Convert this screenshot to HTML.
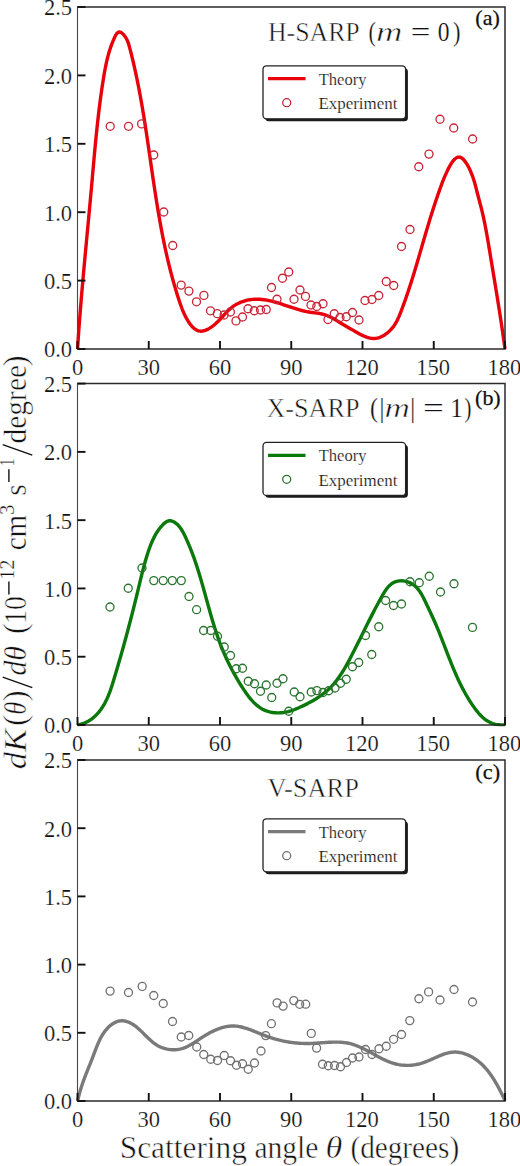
<!DOCTYPE html><html><head><meta charset="utf-8"><style>html,body{margin:0;padding:0;background:#fff;width:520px;height:1166px;overflow:hidden}svg{display:block}text{font-family:"Liberation Serif", serif}</style></head><body>
<svg width="520" height="1166" viewBox="0 0 520 1166">
<rect width="520" height="1166" fill="#fff"/>
<clipPath id="c0"><rect x="75.5" y="7.0" width="431.5" height="343.5"/></clipPath>
<path d="M77.54,349.00 L77.70,346.53 L77.86,344.06 L78.02,341.58 L78.19,339.11 L78.36,336.64 L78.53,334.17 L78.71,331.69 L78.89,329.22 L79.07,326.75 L79.25,324.28 L79.44,321.81 L79.63,319.34 L79.82,316.87 L80.01,314.40 L80.21,311.93 L80.40,309.46 L80.60,306.99 L80.80,304.52 L81.01,302.05 L81.21,299.58 L81.42,297.11 L81.63,294.64 L81.84,292.17 L82.05,289.70 L82.27,287.23 L82.48,284.77 L82.70,282.30 L82.92,279.83 L83.14,277.36 L83.36,274.89 L83.58,272.43 L83.81,269.96 L84.03,267.49 L84.26,265.02 L84.48,262.56 L84.71,260.09 L84.94,257.62 L85.17,255.15 L85.40,252.69 L85.63,250.22 L85.86,247.75 L86.09,245.29 L86.32,242.82 L86.55,240.35 L86.79,237.89 L87.02,235.42 L87.25,232.95 L87.48,230.48 L87.71,228.02 L87.95,225.55 L88.18,223.08 L88.41,220.62 L88.64,218.15 L88.87,215.68 L89.10,213.21 L89.33,210.75 L89.56,208.28 L89.79,205.81 L90.02,203.34 L90.25,200.87 L90.47,198.41 L90.70,195.94 L90.92,193.47 L91.15,191.00 L91.37,188.53 L91.59,186.06 L91.81,183.59 L92.03,181.13 L92.25,178.66 L92.47,176.19 L92.69,173.72 L92.90,171.25 L93.12,168.78 L93.34,166.31 L93.56,163.84 L93.78,161.37 L94.01,158.90 L94.23,156.44 L94.46,153.97 L94.68,151.50 L94.91,149.03 L95.15,146.57 L95.38,144.10 L95.62,141.63 L95.86,139.17 L96.11,136.70 L96.35,134.24 L96.61,131.77 L96.86,129.31 L97.12,126.85 L97.39,124.39 L97.65,121.92 L97.93,119.46 L98.21,117.00 L98.49,114.54 L98.78,112.09 L99.08,109.63 L99.38,107.17 L99.69,104.72 L100.01,102.26 L100.33,99.81 L100.66,97.35 L100.99,94.90 L101.34,92.45 L101.69,90.00 L102.05,87.55 L102.42,85.11 L102.79,82.66 L103.18,80.22 L103.57,77.77 L103.97,75.33 L104.39,72.89 L104.83,70.46 L105.29,68.02 L105.78,65.59 L106.29,63.16 L106.84,60.74 L107.42,58.31 L108.04,55.90 L108.71,53.49 L109.42,51.08 L110.19,48.68 L111.00,46.29 L111.88,43.90 L112.82,41.52 L113.82,39.14 L114.90,36.78 L116.06,34.58 L117.36,32.88 L118.84,31.98 L120.53,32.18 L122.33,33.34 L124.10,35.18 L125.69,37.40 L126.97,39.73 L127.97,42.11 L128.77,44.51 L129.46,46.93 L130.09,49.35 L130.72,51.77 L131.33,54.19 L131.93,56.62 L132.52,59.04 L133.10,61.47 L133.67,63.90 L134.23,66.33 L134.78,68.76 L135.31,71.19 L135.84,73.62 L136.36,76.05 L136.87,78.48 L137.37,80.91 L137.86,83.35 L138.34,85.78 L138.82,88.22 L139.28,90.65 L139.74,93.09 L140.19,95.53 L140.64,97.96 L141.08,100.40 L141.51,102.84 L141.93,105.28 L142.35,107.72 L142.76,110.16 L143.17,112.60 L143.57,115.04 L143.97,117.49 L144.36,119.93 L144.75,122.37 L145.14,124.82 L145.52,127.26 L145.89,129.70 L146.27,132.15 L146.64,134.59 L147.00,137.04 L147.37,139.48 L147.73,141.93 L148.09,144.38 L148.45,146.82 L148.81,149.27 L149.16,151.72 L149.52,154.16 L149.87,156.61 L150.23,159.06 L150.58,161.50 L150.93,163.95 L151.29,166.40 L151.64,168.85 L152.00,171.30 L152.36,173.74 L152.71,176.19 L153.07,178.64 L153.44,181.09 L153.80,183.53 L154.17,185.98 L154.54,188.43 L154.91,190.88 L155.28,193.32 L155.66,195.77 L156.05,198.22 L156.43,200.67 L156.83,203.11 L157.22,205.56 L157.62,208.01 L158.03,210.45 L158.44,212.90 L158.86,215.34 L159.28,217.79 L159.71,220.23 L160.15,222.68 L160.59,225.12 L161.04,227.57 L161.50,230.01 L161.96,232.45 L162.44,234.89 L162.92,237.33 L163.40,239.77 L163.90,242.21 L164.41,244.64 L164.92,247.08 L165.44,249.51 L165.97,251.94 L166.52,254.36 L167.07,256.78 L167.63,259.20 L168.20,261.62 L168.78,264.03 L169.37,266.43 L169.97,268.84 L170.58,271.24 L171.21,273.63 L171.84,276.02 L172.49,278.40 L173.14,280.78 L173.81,283.16 L174.49,285.53 L175.19,287.89 L175.89,290.24 L176.61,292.59 L177.34,294.94 L178.09,297.27 L178.85,299.60 L179.62,301.92 L180.41,304.24 L181.23,306.55 L182.09,308.85 L183.02,311.16 L184.03,313.47 L185.12,315.78 L186.33,318.10 L187.66,320.42 L189.13,322.72 L190.72,324.90 L192.44,326.89 L194.28,328.59 L196.25,329.93 L198.34,330.82 L200.54,331.18 L202.84,331.01 L205.18,330.39 L207.52,329.40 L209.82,328.12 L212.03,326.64 L214.10,325.03 L216.05,323.33 L217.90,321.55 L219.68,319.72 L221.40,317.87 L223.08,316.00 L224.76,314.16 L226.45,312.35 L228.18,310.60 L229.97,308.93 L231.84,307.36 L233.82,305.92 L235.91,304.61 L238.08,303.44 L240.34,302.41 L242.66,301.52 L245.03,300.77 L247.44,300.16 L249.86,299.70 L252.30,299.39 L254.72,299.21 L257.14,299.17 L259.56,299.26 L261.97,299.46 L264.39,299.76 L266.79,300.16 L269.20,300.64 L271.60,301.20 L274.00,301.83 L276.40,302.50 L278.80,303.23 L281.20,303.98 L283.59,304.77 L285.99,305.57 L288.39,306.37 L290.79,307.17 L293.20,307.95 L295.60,308.71 L298.01,309.44 L300.42,310.12 L302.84,310.75 L305.25,311.31 L307.68,311.80 L310.11,312.21 L312.54,312.54 L314.96,312.85 L317.38,313.17 L319.78,313.55 L322.17,314.04 L324.52,314.68 L326.84,315.50 L329.13,316.48 L331.39,317.60 L333.61,318.81 L335.81,320.09 L337.99,321.39 L340.14,322.70 L342.27,323.97 L344.38,325.22 L346.50,326.45 L348.61,327.68 L350.75,328.91 L352.91,330.15 L355.11,331.41 L357.35,332.70 L359.62,333.96 L361.93,335.16 L364.26,336.25 L366.61,337.18 L368.96,337.90 L371.32,338.36 L373.68,338.53 L376.02,338.36 L378.33,337.86 L380.60,337.07 L382.82,336.01 L384.96,334.71 L387.02,333.20 L388.97,331.51 L390.81,329.67 L392.51,327.71 L394.06,325.65 L395.45,323.52 L396.69,321.34 L397.80,319.13 L398.81,316.88 L399.75,314.62 L400.65,312.33 L401.53,310.04 L402.40,307.75 L403.26,305.44 L404.11,303.13 L404.94,300.82 L405.76,298.50 L406.57,296.17 L407.36,293.84 L408.15,291.50 L408.93,289.16 L409.70,286.82 L410.46,284.47 L411.21,282.12 L411.95,279.76 L412.69,277.40 L413.42,275.03 L414.15,272.67 L414.87,270.30 L415.58,267.92 L416.29,265.55 L417.00,263.17 L417.70,260.79 L418.40,258.41 L419.10,256.03 L419.79,253.64 L420.49,251.26 L421.18,248.87 L421.87,246.48 L422.57,244.09 L423.26,241.71 L423.96,239.32 L424.65,236.93 L425.35,234.54 L426.05,232.16 L426.76,229.77 L427.47,227.39 L428.19,225.00 L428.91,222.62 L429.63,220.24 L430.36,217.87 L431.10,215.49 L431.84,213.12 L432.60,210.75 L433.36,208.38 L434.13,206.02 L434.90,203.66 L435.68,201.32 L436.46,198.99 L437.25,196.68 L438.03,194.40 L438.82,192.14 L439.60,189.92 L440.39,187.70 L441.21,185.47 L442.06,183.20 L442.97,180.88 L443.95,178.47 L445.01,175.96 L446.17,173.33 L447.43,170.60 L448.78,167.88 L450.21,165.26 L451.70,162.84 L453.25,160.72 L454.85,158.99 L456.49,157.76 L458.14,157.12 L459.82,157.17 L461.49,157.90 L463.14,159.20 L464.75,161.00 L466.31,163.18 L467.79,165.64 L469.18,168.30 L470.46,171.05 L471.61,173.79 L472.62,176.44 L473.49,178.97 L474.26,181.40 L474.94,183.76 L475.56,186.08 L476.14,188.37 L476.72,190.66 L477.30,192.96 L477.91,195.30 L478.53,197.66 L479.17,200.04 L479.81,202.44 L480.44,204.85 L481.07,207.28 L481.67,209.70 L482.26,212.13 L482.83,214.56 L483.37,216.99 L483.90,219.42 L484.41,221.85 L484.90,224.28 L485.38,226.71 L485.85,229.15 L486.30,231.58 L486.74,234.02 L487.18,236.45 L487.60,238.89 L488.02,241.33 L488.43,243.77 L488.84,246.21 L489.24,248.64 L489.65,251.08 L490.05,253.52 L490.45,255.97 L490.85,258.41 L491.26,260.85 L491.66,263.29 L492.06,265.73 L492.47,268.18 L492.87,270.62 L493.28,273.07 L493.68,275.51 L494.09,277.96 L494.49,280.40 L494.90,282.85 L495.30,285.29 L495.70,287.74 L496.10,290.19 L496.50,292.63 L496.90,295.08 L497.29,297.53 L497.69,299.98 L498.08,302.43 L498.47,304.88 L498.86,307.33 L499.24,309.78 L499.63,312.23 L500.01,314.68 L500.39,317.13 L500.76,319.58 L501.13,322.03 L501.50,324.48 L501.87,326.93 L502.23,329.38 L502.59,331.83 L502.94,334.29 L503.29,336.74 L503.63,339.19 L503.97,341.64 L504.31,344.10 L504.64,346.55 L504.97,349.00" fill="none" stroke="#e8000b" stroke-width="3.4" stroke-linejoin="round" stroke-linecap="butt" clip-path="url(#c0)"/>
<circle cx="110.20" cy="126.30" r="4" fill="none" stroke="#c82436" stroke-width="1.3"/>
<circle cx="128.50" cy="126.30" r="4" fill="none" stroke="#c82436" stroke-width="1.3"/>
<circle cx="141.60" cy="123.90" r="4" fill="none" stroke="#c82436" stroke-width="1.3"/>
<circle cx="153.75" cy="155.00" r="4" fill="none" stroke="#c82436" stroke-width="1.3"/>
<circle cx="163.75" cy="212.00" r="4" fill="none" stroke="#c82436" stroke-width="1.3"/>
<circle cx="172.75" cy="245.50" r="4" fill="none" stroke="#c82436" stroke-width="1.3"/>
<circle cx="181.20" cy="285.10" r="4" fill="none" stroke="#c82436" stroke-width="1.3"/>
<circle cx="188.90" cy="291.10" r="4" fill="none" stroke="#c82436" stroke-width="1.3"/>
<circle cx="196.50" cy="301.80" r="4" fill="none" stroke="#c82436" stroke-width="1.3"/>
<circle cx="203.90" cy="295.40" r="4" fill="none" stroke="#c82436" stroke-width="1.3"/>
<circle cx="210.50" cy="310.80" r="4" fill="none" stroke="#c82436" stroke-width="1.3"/>
<circle cx="217.30" cy="313.70" r="4" fill="none" stroke="#c82436" stroke-width="1.3"/>
<circle cx="224.10" cy="315.00" r="4" fill="none" stroke="#c82436" stroke-width="1.3"/>
<circle cx="230.40" cy="312.00" r="4" fill="none" stroke="#c82436" stroke-width="1.3"/>
<circle cx="236.00" cy="320.90" r="4" fill="none" stroke="#c82436" stroke-width="1.3"/>
<circle cx="242.50" cy="317.00" r="4" fill="none" stroke="#c82436" stroke-width="1.3"/>
<circle cx="248.00" cy="308.75" r="4" fill="none" stroke="#c82436" stroke-width="1.3"/>
<circle cx="254.25" cy="310.75" r="4" fill="none" stroke="#c82436" stroke-width="1.3"/>
<circle cx="260.50" cy="310.00" r="4" fill="none" stroke="#c82436" stroke-width="1.3"/>
<circle cx="266.25" cy="309.50" r="4" fill="none" stroke="#c82436" stroke-width="1.3"/>
<circle cx="271.50" cy="287.50" r="4" fill="none" stroke="#c82436" stroke-width="1.3"/>
<circle cx="277.00" cy="299.25" r="4" fill="none" stroke="#c82436" stroke-width="1.3"/>
<circle cx="282.50" cy="278.25" r="4" fill="none" stroke="#c82436" stroke-width="1.3"/>
<circle cx="288.75" cy="272.00" r="4" fill="none" stroke="#c82436" stroke-width="1.3"/>
<circle cx="294.00" cy="299.25" r="4" fill="none" stroke="#c82436" stroke-width="1.3"/>
<circle cx="300.00" cy="290.00" r="4" fill="none" stroke="#c82436" stroke-width="1.3"/>
<circle cx="305.50" cy="296.40" r="4" fill="none" stroke="#c82436" stroke-width="1.3"/>
<circle cx="311.00" cy="305.00" r="4" fill="none" stroke="#c82436" stroke-width="1.3"/>
<circle cx="316.75" cy="306.50" r="4" fill="none" stroke="#c82436" stroke-width="1.3"/>
<circle cx="323.00" cy="303.75" r="4" fill="none" stroke="#c82436" stroke-width="1.3"/>
<circle cx="328.00" cy="319.50" r="4" fill="none" stroke="#c82436" stroke-width="1.3"/>
<circle cx="334.25" cy="313.75" r="4" fill="none" stroke="#c82436" stroke-width="1.3"/>
<circle cx="340.00" cy="317.50" r="4" fill="none" stroke="#c82436" stroke-width="1.3"/>
<circle cx="346.25" cy="316.75" r="4" fill="none" stroke="#c82436" stroke-width="1.3"/>
<circle cx="352.50" cy="312.50" r="4" fill="none" stroke="#c82436" stroke-width="1.3"/>
<circle cx="359.00" cy="320.00" r="4" fill="none" stroke="#c82436" stroke-width="1.3"/>
<circle cx="365.00" cy="300.50" r="4" fill="none" stroke="#c82436" stroke-width="1.3"/>
<circle cx="372.00" cy="299.50" r="4" fill="none" stroke="#c82436" stroke-width="1.3"/>
<circle cx="378.75" cy="295.50" r="4" fill="none" stroke="#c82436" stroke-width="1.3"/>
<circle cx="386.25" cy="281.50" r="4" fill="none" stroke="#c82436" stroke-width="1.3"/>
<circle cx="393.75" cy="285.50" r="4" fill="none" stroke="#c82436" stroke-width="1.3"/>
<circle cx="401.50" cy="246.50" r="4" fill="none" stroke="#c82436" stroke-width="1.3"/>
<circle cx="410.00" cy="229.50" r="4" fill="none" stroke="#c82436" stroke-width="1.3"/>
<circle cx="418.75" cy="166.75" r="4" fill="none" stroke="#c82436" stroke-width="1.3"/>
<circle cx="429.00" cy="154.10" r="4" fill="none" stroke="#c82436" stroke-width="1.3"/>
<circle cx="440.00" cy="119.25" r="4" fill="none" stroke="#c82436" stroke-width="1.3"/>
<circle cx="453.75" cy="128.00" r="4" fill="none" stroke="#c82436" stroke-width="1.3"/>
<circle cx="472.60" cy="139.00" r="4" fill="none" stroke="#c82436" stroke-width="1.3"/>
<path d="M77.50,7.00 H505.00 V349.00 H77.50" fill="none" stroke="#2b2b2b" stroke-width="1.5"/>
<line x1="77.50" y1="6.25" x2="77.50" y2="349.75" stroke="#484848" stroke-width="1.1"/>
<line x1="77.50" y1="349.00" x2="77.50" y2="341.00" stroke="#111" stroke-width="1.9"/>
<text x="71.88" y="374.80" font-size="22.5" fill="#111111" stroke="#fff" stroke-width="0.2">0</text>
<line x1="148.75" y1="349.00" x2="148.75" y2="341.00" stroke="#111" stroke-width="1.9"/>
<text x="137.38" y="374.80" font-size="22.5" fill="#111111" stroke="#fff" stroke-width="0.2">30</text>
<line x1="220.00" y1="349.00" x2="220.00" y2="341.00" stroke="#111" stroke-width="1.9"/>
<text x="208.69" y="374.80" font-size="22.5" fill="#111111" stroke="#fff" stroke-width="0.2">60</text>
<line x1="291.25" y1="349.00" x2="291.25" y2="341.00" stroke="#111" stroke-width="1.9"/>
<text x="280.06" y="374.80" font-size="22.5" fill="#111111" stroke="#fff" stroke-width="0.2">90</text>
<line x1="362.50" y1="349.00" x2="362.50" y2="341.00" stroke="#111" stroke-width="1.9"/>
<text x="345.06" y="374.80" font-size="22.5" fill="#111111" stroke="#fff" stroke-width="0.2">120</text>
<line x1="433.75" y1="349.00" x2="433.75" y2="341.00" stroke="#111" stroke-width="1.9"/>
<text x="416.31" y="374.80" font-size="22.5" fill="#111111" stroke="#fff" stroke-width="0.2">150</text>
<line x1="505.00" y1="349.00" x2="505.00" y2="341.00" stroke="#111" stroke-width="1.9"/>
<text x="487.56" y="374.80" font-size="22.5" fill="#111111" stroke="#fff" stroke-width="0.2">180</text>
<line x1="77.50" y1="349.00" x2="85.50" y2="349.00" stroke="#111" stroke-width="1.9"/>
<text x="43.95" y="357.40" font-size="22.5" fill="#111111" stroke="#fff" stroke-width="0.2">0.0</text>
<line x1="77.50" y1="280.60" x2="85.50" y2="280.60" stroke="#111" stroke-width="1.9"/>
<text x="43.95" y="289.00" font-size="22.5" fill="#111111" stroke="#fff" stroke-width="0.2">0.5</text>
<line x1="77.50" y1="212.20" x2="85.50" y2="212.20" stroke="#111" stroke-width="1.9"/>
<text x="43.95" y="220.60" font-size="22.5" fill="#111111" stroke="#fff" stroke-width="0.2">1.0</text>
<line x1="77.50" y1="143.80" x2="85.50" y2="143.80" stroke="#111" stroke-width="1.9"/>
<text x="43.95" y="152.20" font-size="22.5" fill="#111111" stroke="#fff" stroke-width="0.2">1.5</text>
<line x1="77.50" y1="75.40" x2="85.50" y2="75.40" stroke="#111" stroke-width="1.9"/>
<text x="43.95" y="83.80" font-size="22.5" fill="#111111" stroke="#fff" stroke-width="0.2">2.0</text>
<line x1="77.50" y1="7.00" x2="85.50" y2="7.00" stroke="#111" stroke-width="1.9"/>
<text x="43.95" y="15.40" font-size="22.5" fill="#111111" stroke="#fff" stroke-width="0.2">2.5</text>
<text x="267.97" y="41.30" font-size="26.50" textLength="91.75" lengthAdjust="spacingAndGlyphs" fill="#111111" stroke="#fff" stroke-width="0.50">H-SARP</text>
<text x="368.57" y="41.30" font-size="26.50" textLength="7.32" lengthAdjust="spacingAndGlyphs" fill="#111111" stroke="#fff" stroke-width="0.20">(</text>
<text x="376.12" y="41.30" font-size="26.50" font-style="italic" textLength="26.45" lengthAdjust="spacingAndGlyphs" fill="#111111" stroke="#fff" stroke-width="0.50">m</text>
<text x="410.86" y="41.30" font-size="26.50" textLength="19.63" lengthAdjust="spacingAndGlyphs" fill="#111111" stroke="#fff" stroke-width="0.20">=</text>
<text x="437.86" y="41.30" font-size="26.50" textLength="11.78" lengthAdjust="spacingAndGlyphs" fill="#111111" stroke="#fff" stroke-width="0.20">0</text>
<text x="453.00" y="41.30" font-size="26.50" textLength="7.52" lengthAdjust="spacingAndGlyphs" fill="#111111" stroke="#fff" stroke-width="0.20">)</text>
<text x="475.38" y="25.43" font-size="21.00" textLength="24.47" lengthAdjust="spacingAndGlyphs" fill="#111" stroke="#111" stroke-width="0.25">(a)</text>
<rect x="265.3" y="68.20" width="142.6" height="53" rx="3.5" fill="#1a1a1a"/>
<rect x="263" y="65.80" width="142.6" height="53" rx="3.5" fill="#fff" stroke="#222" stroke-width="1.3"/>
<line x1="268" y1="78.70" x2="305.5" y2="78.70" stroke="#e8000b" stroke-width="3.2"/>
<circle cx="286.7" cy="102.70" r="4" fill="none" stroke="#c82436" stroke-width="1.3"/>
<text x="318.66" y="84.80" font-size="17.50" textLength="47.87" lengthAdjust="spacingAndGlyphs" fill="#111111" stroke="#fff" stroke-width="0.20">Theory</text>
<text x="318.42" y="109.00" font-size="17.50" textLength="79.02" lengthAdjust="spacingAndGlyphs" fill="#111111" stroke="#fff" stroke-width="0.20">Experiment</text>
<clipPath id="c1"><rect x="75.5" y="383.6" width="431.5" height="342.9"/></clipPath>
<path d="M77.41,724.79 L79.14,724.54 L80.83,724.19 L82.47,723.74 L84.07,723.19 L85.63,722.55 L87.14,721.82 L88.61,721.01 L90.04,720.13 L91.42,719.17 L92.76,718.14 L94.05,717.05 L95.30,715.91 L96.50,714.71 L97.66,713.46 L98.77,712.17 L99.83,710.85 L100.85,709.48 L101.82,708.10 L102.75,706.68 L103.63,705.25 L104.46,703.80 L105.26,702.32 L106.02,700.83 L106.75,699.32 L107.44,697.79 L108.11,696.25 L108.74,694.70 L109.35,693.13 L109.94,691.56 L110.50,689.97 L111.05,688.37 L111.59,686.77 L112.11,685.16 L112.61,683.55 L113.11,681.93 L113.61,680.31 L114.10,678.69 L114.59,677.07 L115.07,675.45 L115.56,673.83 L116.04,672.21 L116.52,670.58 L117.00,668.96 L117.48,667.34 L117.95,665.71 L118.43,664.09 L118.90,662.47 L119.37,660.84 L119.84,659.22 L120.30,657.59 L120.77,655.97 L121.23,654.34 L121.69,652.72 L122.15,651.09 L122.60,649.47 L123.06,647.84 L123.51,646.21 L123.96,644.58 L124.41,642.96 L124.86,641.33 L125.30,639.70 L125.75,638.07 L126.19,636.44 L126.63,634.81 L127.07,633.18 L127.51,631.56 L127.94,629.93 L128.37,628.29 L128.80,626.66 L129.23,625.03 L129.66,623.40 L130.09,621.77 L130.51,620.14 L130.94,618.51 L131.36,616.87 L131.78,615.24 L132.19,613.61 L132.61,611.98 L133.02,610.34 L133.44,608.71 L133.85,607.07 L134.26,605.44 L134.66,603.81 L135.07,602.17 L135.47,600.53 L135.88,598.90 L136.28,597.26 L136.68,595.63 L137.08,593.99 L137.47,592.35 L137.87,590.72 L138.26,589.08 L138.65,587.44 L139.04,585.81 L139.43,584.17 L139.82,582.53 L140.22,580.89 L140.61,579.26 L141.01,577.62 L141.41,575.98 L141.82,574.35 L142.23,572.71 L142.65,571.08 L143.07,569.45 L143.50,567.82 L143.93,566.19 L144.38,564.56 L144.83,562.93 L145.29,561.31 L145.76,559.68 L146.25,558.06 L146.74,556.44 L147.25,554.82 L147.77,553.20 L148.30,551.59 L148.85,549.98 L149.41,548.37 L149.99,546.77 L150.60,545.18 L151.23,543.59 L151.88,542.02 L152.56,540.46 L153.28,538.92 L154.03,537.39 L154.82,535.89 L155.64,534.40 L156.51,532.94 L157.43,531.51 L158.39,530.10 L159.40,528.73 L160.47,527.38 L161.59,526.07 L162.77,524.79 L164.01,523.58 L165.31,522.49 L166.67,521.60 L168.08,520.97 L169.54,520.69 L171.06,520.80 L172.60,521.27 L174.11,522.02 L175.57,522.98 L176.94,524.09 L178.19,525.29 L179.33,526.57 L180.37,527.92 L181.33,529.32 L182.22,530.76 L183.05,532.25 L183.83,533.76 L184.59,535.29 L185.32,536.82 L186.05,538.36 L186.75,539.91 L187.45,541.46 L188.13,543.01 L188.80,544.57 L189.45,546.14 L190.10,547.71 L190.73,549.28 L191.35,550.85 L191.96,552.44 L192.56,554.02 L193.14,555.61 L193.72,557.20 L194.29,558.79 L194.85,560.39 L195.40,561.99 L195.94,563.59 L196.48,565.20 L197.00,566.81 L197.52,568.42 L198.03,570.03 L198.54,571.65 L199.04,573.27 L199.53,574.89 L200.02,576.51 L200.50,578.13 L200.98,579.76 L201.45,581.38 L201.92,583.01 L202.38,584.64 L202.85,586.27 L203.31,587.90 L203.76,589.53 L204.22,591.16 L204.67,592.79 L205.12,594.42 L205.57,596.05 L206.02,597.68 L206.47,599.31 L206.92,600.94 L207.37,602.57 L207.82,604.20 L208.27,605.83 L208.72,607.46 L209.18,609.08 L209.64,610.71 L210.10,612.33 L210.56,613.95 L211.03,615.57 L211.50,617.19 L211.97,618.81 L212.45,620.42 L212.93,622.03 L213.42,623.64 L213.92,625.25 L214.42,626.86 L214.92,628.46 L215.44,630.06 L215.96,631.65 L216.49,633.25 L217.02,634.83 L217.57,636.42 L218.12,638.00 L218.68,639.58 L219.25,641.15 L219.83,642.72 L220.42,644.29 L221.02,645.85 L221.64,647.41 L222.26,648.96 L222.89,650.51 L223.54,652.05 L224.20,653.59 L224.87,655.12 L225.55,656.65 L226.24,658.18 L226.95,659.70 L227.67,661.21 L228.40,662.72 L229.14,664.23 L229.89,665.74 L230.66,667.24 L231.44,668.74 L232.23,670.23 L233.03,671.72 L233.84,673.21 L234.67,674.69 L235.51,676.17 L236.36,677.65 L237.22,679.13 L238.10,680.60 L238.99,682.07 L239.89,683.54 L240.80,685.01 L241.73,686.47 L242.66,687.93 L243.61,689.39 L244.58,690.84 L245.56,692.28 L246.56,693.71 L247.58,695.11 L248.62,696.50 L249.69,697.85 L250.78,699.17 L251.89,700.45 L253.04,701.70 L254.21,702.89 L255.42,704.04 L256.66,705.14 L257.94,706.17 L259.25,707.15 L260.60,708.05 L262.00,708.89 L263.43,709.65 L264.91,710.34 L266.44,710.94 L268.01,711.45 L269.62,711.88 L271.25,712.24 L272.92,712.51 L274.60,712.70 L276.30,712.82 L278.01,712.86 L279.73,712.82 L281.44,712.72 L283.15,712.54 L284.85,712.29 L286.53,711.97 L288.18,711.58 L289.82,711.14 L291.43,710.63 L293.03,710.08 L294.62,709.49 L296.19,708.86 L297.75,708.20 L299.31,707.52 L300.86,706.82 L302.40,706.11 L303.94,705.38 L305.46,704.64 L306.98,703.88 L308.49,703.11 L309.99,702.32 L311.48,701.50 L312.95,700.67 L314.41,699.82 L315.85,698.94 L317.27,698.04 L318.68,697.12 L320.07,696.18 L321.44,695.21 L322.78,694.21 L324.11,693.19 L325.41,692.13 L326.68,691.05 L327.93,689.94 L329.16,688.80 L330.35,687.63 L331.52,686.43 L332.66,685.19 L333.77,683.93 L334.85,682.64 L335.91,681.32 L336.95,679.98 L337.96,678.62 L338.95,677.24 L339.93,675.83 L340.88,674.41 L341.81,672.98 L342.72,671.52 L343.62,670.06 L344.50,668.58 L345.36,667.10 L346.21,665.60 L347.05,664.10 L347.88,662.60 L348.69,661.09 L349.49,659.58 L350.29,658.07 L351.08,656.56 L351.86,655.05 L352.63,653.55 L353.40,652.05 L354.16,650.55 L354.92,649.06 L355.68,647.57 L356.42,646.08 L357.17,644.59 L357.91,643.11 L358.65,641.62 L359.39,640.14 L360.13,638.66 L360.86,637.18 L361.60,635.70 L362.33,634.22 L363.06,632.74 L363.80,631.26 L364.53,629.78 L365.27,628.30 L366.00,626.82 L366.74,625.33 L367.49,623.85 L368.23,622.36 L368.98,620.87 L369.74,619.37 L370.49,617.88 L371.26,616.38 L372.02,614.87 L372.80,613.37 L373.58,611.85 L374.36,610.34 L375.16,608.82 L375.96,607.29 L376.77,605.76 L377.59,604.22 L378.41,602.68 L379.25,601.13 L380.10,599.58 L380.95,598.02 L381.82,596.45 L382.71,594.89 L383.61,593.35 L384.55,591.84 L385.51,590.37 L386.52,588.97 L387.57,587.63 L388.67,586.38 L389.83,585.23 L391.05,584.18 L392.33,583.26 L393.69,582.48 L395.13,581.85 L396.64,581.37 L398.21,581.04 L399.82,580.86 L401.46,580.82 L403.12,580.91 L404.78,581.15 L406.43,581.51 L408.04,582.00 L409.61,582.62 L411.13,583.35 L412.57,584.20 L413.93,585.16 L415.20,586.22 L416.40,587.37 L417.53,588.61 L418.60,589.93 L419.61,591.31 L420.56,592.75 L421.47,594.23 L422.34,595.76 L423.17,597.31 L423.98,598.89 L424.76,600.48 L425.52,602.07 L426.27,603.66 L427.01,605.24 L427.75,606.79 L428.48,608.34 L429.21,609.87 L429.93,611.40 L430.65,612.91 L431.35,614.43 L432.06,615.94 L432.75,617.44 L433.44,618.95 L434.12,620.46 L434.79,621.98 L435.45,623.50 L436.11,625.03 L436.76,626.56 L437.40,628.10 L438.04,629.64 L438.67,631.18 L439.30,632.73 L439.92,634.29 L440.54,635.85 L441.15,637.41 L441.77,638.97 L442.37,640.54 L442.98,642.10 L443.59,643.67 L444.19,645.25 L444.80,646.82 L445.41,648.39 L446.01,649.97 L446.62,651.54 L447.23,653.12 L447.84,654.70 L448.45,656.27 L449.06,657.85 L449.68,659.42 L450.31,660.99 L450.93,662.57 L451.57,664.14 L452.20,665.70 L452.85,667.27 L453.50,668.83 L454.16,670.39 L454.82,671.95 L455.49,673.50 L456.17,675.05 L456.86,676.60 L457.56,678.14 L458.27,679.68 L458.99,681.21 L459.72,682.74 L460.46,684.26 L461.22,685.78 L461.98,687.29 L462.76,688.79 L463.55,690.29 L464.36,691.78 L465.18,693.26 L466.01,694.73 L466.86,696.20 L467.73,697.66 L468.61,699.11 L469.51,700.55 L470.43,701.99 L471.36,703.41 L472.31,704.83 L473.28,706.23 L474.27,707.63 L475.28,709.01 L476.32,710.37 L477.38,711.70 L478.47,713.00 L479.59,714.27 L480.74,715.49 L481.93,716.66 L483.15,717.78 L484.42,718.84 L485.73,719.83 L487.08,720.74 L488.48,721.58 L489.93,722.34 L491.43,723.00 L492.99,723.57 L494.61,724.04 L496.28,724.40 L498.01,724.64 L499.80,724.78 L501.61,724.85 L503.39,724.86 L505.13,724.87" fill="none" stroke="#0a780a" stroke-width="3.4" stroke-linejoin="round" stroke-linecap="butt" clip-path="url(#c1)"/>
<circle cx="110.00" cy="607.00" r="4" fill="none" stroke="#2a742e" stroke-width="1.3"/>
<circle cx="128.25" cy="588.25" r="4" fill="none" stroke="#2a742e" stroke-width="1.3"/>
<circle cx="142.00" cy="568.00" r="4" fill="none" stroke="#2a742e" stroke-width="1.3"/>
<circle cx="153.80" cy="580.60" r="4" fill="none" stroke="#2a742e" stroke-width="1.3"/>
<circle cx="163.20" cy="580.60" r="4" fill="none" stroke="#2a742e" stroke-width="1.3"/>
<circle cx="172.30" cy="580.60" r="4" fill="none" stroke="#2a742e" stroke-width="1.3"/>
<circle cx="181.30" cy="580.60" r="4" fill="none" stroke="#2a742e" stroke-width="1.3"/>
<circle cx="189.00" cy="596.50" r="4" fill="none" stroke="#2a742e" stroke-width="1.3"/>
<circle cx="196.60" cy="609.70" r="4" fill="none" stroke="#2a742e" stroke-width="1.3"/>
<circle cx="203.60" cy="630.50" r="4" fill="none" stroke="#2a742e" stroke-width="1.3"/>
<circle cx="210.75" cy="630.50" r="4" fill="none" stroke="#2a742e" stroke-width="1.3"/>
<circle cx="217.50" cy="636.25" r="4" fill="none" stroke="#2a742e" stroke-width="1.3"/>
<circle cx="224.25" cy="647.00" r="4" fill="none" stroke="#2a742e" stroke-width="1.3"/>
<circle cx="230.50" cy="655.50" r="4" fill="none" stroke="#2a742e" stroke-width="1.3"/>
<circle cx="236.25" cy="668.75" r="4" fill="none" stroke="#2a742e" stroke-width="1.3"/>
<circle cx="242.50" cy="668.25" r="4" fill="none" stroke="#2a742e" stroke-width="1.3"/>
<circle cx="248.25" cy="681.25" r="4" fill="none" stroke="#2a742e" stroke-width="1.3"/>
<circle cx="254.50" cy="683.75" r="4" fill="none" stroke="#2a742e" stroke-width="1.3"/>
<circle cx="260.50" cy="691.25" r="4" fill="none" stroke="#2a742e" stroke-width="1.3"/>
<circle cx="266.25" cy="685.00" r="4" fill="none" stroke="#2a742e" stroke-width="1.3"/>
<circle cx="271.75" cy="697.50" r="4" fill="none" stroke="#2a742e" stroke-width="1.3"/>
<circle cx="277.00" cy="683.25" r="4" fill="none" stroke="#2a742e" stroke-width="1.3"/>
<circle cx="283.00" cy="678.75" r="4" fill="none" stroke="#2a742e" stroke-width="1.3"/>
<circle cx="288.75" cy="711.25" r="4" fill="none" stroke="#2a742e" stroke-width="1.3"/>
<circle cx="294.25" cy="692.00" r="4" fill="none" stroke="#2a742e" stroke-width="1.3"/>
<circle cx="300.00" cy="696.75" r="4" fill="none" stroke="#2a742e" stroke-width="1.3"/>
<circle cx="311.25" cy="692.00" r="4" fill="none" stroke="#2a742e" stroke-width="1.3"/>
<circle cx="316.90" cy="690.60" r="4" fill="none" stroke="#2a742e" stroke-width="1.3"/>
<circle cx="323.00" cy="692.50" r="4" fill="none" stroke="#2a742e" stroke-width="1.3"/>
<circle cx="328.75" cy="690.75" r="4" fill="none" stroke="#2a742e" stroke-width="1.3"/>
<circle cx="335.00" cy="688.00" r="4" fill="none" stroke="#2a742e" stroke-width="1.3"/>
<circle cx="340.50" cy="683.25" r="4" fill="none" stroke="#2a742e" stroke-width="1.3"/>
<circle cx="346.25" cy="679.25" r="4" fill="none" stroke="#2a742e" stroke-width="1.3"/>
<circle cx="352.50" cy="666.75" r="4" fill="none" stroke="#2a742e" stroke-width="1.3"/>
<circle cx="358.75" cy="662.50" r="4" fill="none" stroke="#2a742e" stroke-width="1.3"/>
<circle cx="365.50" cy="635.50" r="4" fill="none" stroke="#2a742e" stroke-width="1.3"/>
<circle cx="371.75" cy="654.50" r="4" fill="none" stroke="#2a742e" stroke-width="1.3"/>
<circle cx="378.75" cy="626.75" r="4" fill="none" stroke="#2a742e" stroke-width="1.3"/>
<circle cx="385.60" cy="600.50" r="4" fill="none" stroke="#2a742e" stroke-width="1.3"/>
<circle cx="393.50" cy="605.50" r="4" fill="none" stroke="#2a742e" stroke-width="1.3"/>
<circle cx="401.50" cy="604.00" r="4" fill="none" stroke="#2a742e" stroke-width="1.3"/>
<circle cx="410.00" cy="581.75" r="4" fill="none" stroke="#2a742e" stroke-width="1.3"/>
<circle cx="419.25" cy="582.75" r="4" fill="none" stroke="#2a742e" stroke-width="1.3"/>
<circle cx="429.25" cy="576.25" r="4" fill="none" stroke="#2a742e" stroke-width="1.3"/>
<circle cx="440.50" cy="592.00" r="4" fill="none" stroke="#2a742e" stroke-width="1.3"/>
<circle cx="454.00" cy="583.75" r="4" fill="none" stroke="#2a742e" stroke-width="1.3"/>
<circle cx="472.50" cy="627.40" r="4" fill="none" stroke="#2a742e" stroke-width="1.3"/>
<path d="M77.50,383.60 H505.00 V725.00 H77.50" fill="none" stroke="#2b2b2b" stroke-width="1.5"/>
<line x1="77.50" y1="382.85" x2="77.50" y2="725.75" stroke="#484848" stroke-width="1.1"/>
<line x1="77.50" y1="725.00" x2="77.50" y2="717.00" stroke="#111" stroke-width="1.9"/>
<text x="71.88" y="750.80" font-size="22.5" fill="#111111" stroke="#fff" stroke-width="0.2">0</text>
<line x1="148.75" y1="725.00" x2="148.75" y2="717.00" stroke="#111" stroke-width="1.9"/>
<text x="137.38" y="750.80" font-size="22.5" fill="#111111" stroke="#fff" stroke-width="0.2">30</text>
<line x1="220.00" y1="725.00" x2="220.00" y2="717.00" stroke="#111" stroke-width="1.9"/>
<text x="208.69" y="750.80" font-size="22.5" fill="#111111" stroke="#fff" stroke-width="0.2">60</text>
<line x1="291.25" y1="725.00" x2="291.25" y2="717.00" stroke="#111" stroke-width="1.9"/>
<text x="280.06" y="750.80" font-size="22.5" fill="#111111" stroke="#fff" stroke-width="0.2">90</text>
<line x1="362.50" y1="725.00" x2="362.50" y2="717.00" stroke="#111" stroke-width="1.9"/>
<text x="345.06" y="750.80" font-size="22.5" fill="#111111" stroke="#fff" stroke-width="0.2">120</text>
<line x1="433.75" y1="725.00" x2="433.75" y2="717.00" stroke="#111" stroke-width="1.9"/>
<text x="416.31" y="750.80" font-size="22.5" fill="#111111" stroke="#fff" stroke-width="0.2">150</text>
<line x1="505.00" y1="725.00" x2="505.00" y2="717.00" stroke="#111" stroke-width="1.9"/>
<text x="487.56" y="750.80" font-size="22.5" fill="#111111" stroke="#fff" stroke-width="0.2">180</text>
<line x1="77.50" y1="725.00" x2="85.50" y2="725.00" stroke="#111" stroke-width="1.9"/>
<text x="43.95" y="733.40" font-size="22.5" fill="#111111" stroke="#fff" stroke-width="0.2">0.0</text>
<line x1="77.50" y1="656.72" x2="85.50" y2="656.72" stroke="#111" stroke-width="1.9"/>
<text x="43.95" y="665.12" font-size="22.5" fill="#111111" stroke="#fff" stroke-width="0.2">0.5</text>
<line x1="77.50" y1="588.44" x2="85.50" y2="588.44" stroke="#111" stroke-width="1.9"/>
<text x="43.95" y="596.84" font-size="22.5" fill="#111111" stroke="#fff" stroke-width="0.2">1.0</text>
<line x1="77.50" y1="520.16" x2="85.50" y2="520.16" stroke="#111" stroke-width="1.9"/>
<text x="43.95" y="528.56" font-size="22.5" fill="#111111" stroke="#fff" stroke-width="0.2">1.5</text>
<line x1="77.50" y1="451.88" x2="85.50" y2="451.88" stroke="#111" stroke-width="1.9"/>
<text x="43.95" y="460.28" font-size="22.5" fill="#111111" stroke="#fff" stroke-width="0.2">2.0</text>
<line x1="77.50" y1="383.60" x2="85.50" y2="383.60" stroke="#111" stroke-width="1.9"/>
<text x="43.95" y="392.00" font-size="22.5" fill="#111111" stroke="#fff" stroke-width="0.2">2.5</text>
<text x="266.48" y="416.80" font-size="26.50" textLength="93.00" lengthAdjust="spacingAndGlyphs" fill="#111111" stroke="#fff" stroke-width="0.50">X-SARP</text>
<text x="370.09" y="416.80" font-size="26.50" textLength="7.96" lengthAdjust="spacingAndGlyphs" fill="#111111" stroke="#fff" stroke-width="0.20">(</text>
<text x="379.16" y="416.80" font-size="26.50" textLength="5.40" lengthAdjust="spacingAndGlyphs" fill="#111111" stroke="#fff" stroke-width="0.20">|</text>
<text x="384.57" y="416.80" font-size="26.50" font-style="italic" textLength="25.44" lengthAdjust="spacingAndGlyphs" fill="#111111" stroke="#fff" stroke-width="0.50">m</text>
<text x="409.96" y="416.80" font-size="26.50" textLength="5.40" lengthAdjust="spacingAndGlyphs" fill="#111111" stroke="#fff" stroke-width="0.20">|</text>
<text x="422.95" y="416.80" font-size="26.50" textLength="20.89" lengthAdjust="spacingAndGlyphs" fill="#111111" stroke="#fff" stroke-width="0.20">=</text>
<text x="450.14" y="416.80" font-size="26.50" textLength="12.61" lengthAdjust="spacingAndGlyphs" fill="#111111" stroke="#fff" stroke-width="0.20">1</text>
<text x="464.41" y="416.80" font-size="26.50" textLength="6.93" lengthAdjust="spacingAndGlyphs" fill="#111111" stroke="#fff" stroke-width="0.20">)</text>
<text x="475.08" y="405.02" font-size="21.00" textLength="25.62" lengthAdjust="spacingAndGlyphs" fill="#111" stroke="#111" stroke-width="0.25">(b)</text>
<rect x="265.3" y="444.80" width="142.6" height="53" rx="3.5" fill="#1a1a1a"/>
<rect x="263" y="442.40" width="142.6" height="53" rx="3.5" fill="#fff" stroke="#222" stroke-width="1.3"/>
<line x1="268" y1="455.30" x2="305.5" y2="455.30" stroke="#0a780a" stroke-width="3.2"/>
<circle cx="286.7" cy="479.30" r="4" fill="none" stroke="#2a742e" stroke-width="1.3"/>
<text x="318.66" y="461.40" font-size="17.50" textLength="47.87" lengthAdjust="spacingAndGlyphs" fill="#111111" stroke="#fff" stroke-width="0.20">Theory</text>
<text x="318.42" y="485.60" font-size="17.50" textLength="79.02" lengthAdjust="spacingAndGlyphs" fill="#111111" stroke="#fff" stroke-width="0.20">Experiment</text>
<clipPath id="c2"><rect x="75.5" y="760.0" width="431.5" height="342.5"/></clipPath>
<path d="M77.79,1100.53 L78.01,1099.47 L78.23,1098.41 L78.47,1097.36 L78.72,1096.31 L78.97,1095.28 L79.23,1094.24 L79.51,1093.22 L79.79,1092.20 L80.07,1091.18 L80.37,1090.17 L80.67,1089.16 L80.98,1088.16 L81.30,1087.16 L81.62,1086.17 L81.95,1085.18 L82.28,1084.19 L82.62,1083.21 L82.96,1082.23 L83.31,1081.25 L83.67,1080.27 L84.03,1079.30 L84.39,1078.32 L84.76,1077.35 L85.13,1076.38 L85.50,1075.42 L85.88,1074.45 L86.26,1073.48 L86.64,1072.51 L87.02,1071.55 L87.41,1070.58 L87.80,1069.62 L88.18,1068.65 L88.57,1067.68 L88.97,1066.71 L89.36,1065.74 L89.75,1064.77 L90.14,1063.79 L90.53,1062.82 L90.92,1061.84 L91.31,1060.85 L91.70,1059.87 L92.08,1058.88 L92.47,1057.89 L92.85,1056.90 L93.23,1055.90 L93.61,1054.90 L93.99,1053.89 L94.36,1052.88 L94.74,1051.88 L95.12,1050.87 L95.50,1049.86 L95.89,1048.85 L96.28,1047.85 L96.67,1046.84 L97.08,1045.84 L97.48,1044.85 L97.90,1043.86 L98.33,1042.87 L98.77,1041.90 L99.21,1040.93 L99.67,1039.96 L100.15,1039.01 L100.63,1038.07 L101.13,1037.13 L101.65,1036.21 L102.18,1035.30 L102.74,1034.41 L103.31,1033.52 L103.90,1032.65 L104.51,1031.80 L105.14,1030.96 L105.79,1030.14 L106.47,1029.34 L107.17,1028.56 L107.89,1027.79 L108.65,1027.05 L109.43,1026.32 L110.23,1025.63 L111.06,1024.96 L111.91,1024.33 L112.78,1023.73 L113.67,1023.18 L114.58,1022.67 L115.51,1022.22 L116.46,1021.82 L117.42,1021.48 L118.40,1021.20 L119.39,1020.99 L120.39,1020.85 L121.41,1020.78 L122.43,1020.79 L123.45,1020.87 L124.47,1021.01 L125.48,1021.21 L126.48,1021.47 L127.46,1021.77 L128.42,1022.11 L129.36,1022.50 L130.28,1022.92 L131.18,1023.39 L132.07,1023.89 L132.95,1024.42 L133.81,1024.99 L134.65,1025.58 L135.49,1026.20 L136.31,1026.84 L137.13,1027.51 L137.93,1028.20 L138.73,1028.91 L139.52,1029.63 L140.31,1030.37 L141.09,1031.12 L141.87,1031.88 L142.65,1032.65 L143.42,1033.42 L144.19,1034.20 L144.97,1034.98 L145.75,1035.76 L146.53,1036.54 L147.31,1037.31 L148.10,1038.07 L148.90,1038.83 L149.70,1039.57 L150.51,1040.30 L151.33,1041.02 L152.16,1041.72 L153.00,1042.40 L153.85,1043.06 L154.72,1043.69 L155.60,1044.30 L156.50,1044.88 L157.42,1045.43 L158.35,1045.94 L159.30,1046.43 L160.26,1046.88 L161.24,1047.30 L162.23,1047.69 L163.23,1048.04 L164.24,1048.37 L165.26,1048.65 L166.28,1048.91 L167.32,1049.13 L168.35,1049.32 L169.40,1049.47 L170.44,1049.59 L171.48,1049.68 L172.53,1049.73 L173.57,1049.75 L174.61,1049.74 L175.65,1049.69 L176.68,1049.61 L177.70,1049.49 L178.72,1049.33 L179.72,1049.15 L180.72,1048.92 L181.70,1048.67 L182.67,1048.38 L183.63,1048.05 L184.58,1047.70 L185.52,1047.32 L186.46,1046.91 L187.38,1046.48 L188.30,1046.02 L189.21,1045.54 L190.12,1045.05 L191.02,1044.53 L191.92,1044.00 L192.81,1043.45 L193.70,1042.90 L194.60,1042.33 L195.49,1041.75 L196.38,1041.16 L197.27,1040.57 L198.17,1039.98 L199.07,1039.38 L199.97,1038.78 L200.87,1038.19 L201.78,1037.59 L202.70,1037.01 L203.63,1036.42 L204.56,1035.85 L205.49,1035.28 L206.43,1034.73 L207.38,1034.18 L208.33,1033.64 L209.29,1033.11 L210.25,1032.60 L211.22,1032.10 L212.19,1031.61 L213.16,1031.14 L214.14,1030.68 L215.13,1030.24 L216.11,1029.81 L217.10,1029.41 L218.10,1029.02 L219.09,1028.65 L220.09,1028.30 L221.09,1027.98 L222.09,1027.67 L223.10,1027.39 L224.10,1027.13 L225.11,1026.89 L226.12,1026.68 L227.13,1026.50 L228.14,1026.35 L229.15,1026.22 L230.17,1026.12 L231.18,1026.05 L232.19,1026.01 L233.20,1026.00 L234.22,1026.02 L235.23,1026.07 L236.24,1026.16 L237.25,1026.27 L238.26,1026.41 L239.27,1026.58 L240.28,1026.77 L241.28,1026.99 L242.29,1027.23 L243.30,1027.49 L244.31,1027.77 L245.31,1028.06 L246.32,1028.38 L247.33,1028.71 L248.33,1029.05 L249.34,1029.41 L250.34,1029.78 L251.35,1030.16 L252.36,1030.55 L253.36,1030.94 L254.37,1031.34 L255.37,1031.75 L256.38,1032.16 L257.38,1032.58 L258.39,1032.99 L259.39,1033.40 L260.40,1033.82 L261.40,1034.23 L262.41,1034.63 L263.41,1035.03 L264.42,1035.42 L265.42,1035.81 L266.43,1036.18 L267.43,1036.54 L268.44,1036.90 L269.45,1037.25 L270.45,1037.58 L271.46,1037.91 L272.47,1038.23 L273.48,1038.54 L274.49,1038.84 L275.49,1039.12 L276.50,1039.41 L277.52,1039.68 L278.53,1039.94 L279.54,1040.19 L280.55,1040.43 L281.57,1040.67 L282.58,1040.89 L283.60,1041.10 L284.61,1041.31 L285.63,1041.51 L286.65,1041.69 L287.67,1041.87 L288.69,1042.04 L289.71,1042.20 L290.73,1042.35 L291.76,1042.49 L292.78,1042.62 L293.81,1042.74 L294.84,1042.85 L295.87,1042.96 L296.90,1043.05 L297.93,1043.13 L298.96,1043.21 L300.00,1043.28 L301.04,1043.33 L302.08,1043.38 L303.12,1043.42 L304.16,1043.45 L305.21,1043.47 L306.25,1043.48 L307.30,1043.48 L308.35,1043.47 L309.40,1043.46 L310.46,1043.43 L311.51,1043.40 L312.57,1043.35 L313.63,1043.30 L314.69,1043.25 L315.75,1043.18 L316.82,1043.12 L317.88,1043.05 L318.95,1042.97 L320.01,1042.90 L321.08,1042.82 L322.14,1042.74 L323.21,1042.67 L324.28,1042.59 L325.34,1042.52 L326.41,1042.45 L327.47,1042.38 L328.54,1042.32 L329.60,1042.27 L330.66,1042.22 L331.72,1042.18 L332.78,1042.14 L333.84,1042.12 L334.89,1042.11 L335.95,1042.10 L337.00,1042.11 L338.04,1042.13 L339.09,1042.17 L340.13,1042.22 L341.17,1042.28 L342.21,1042.36 L343.24,1042.46 L344.27,1042.58 L345.30,1042.71 L346.32,1042.87 L347.34,1043.04 L348.35,1043.24 L349.36,1043.45 L350.36,1043.69 L351.36,1043.96 L352.36,1044.24 L353.35,1044.55 L354.33,1044.88 L355.32,1045.23 L356.30,1045.59 L357.27,1045.97 L358.24,1046.37 L359.21,1046.78 L360.18,1047.21 L361.15,1047.65 L362.11,1048.10 L363.07,1048.57 L364.02,1049.04 L364.98,1049.53 L365.93,1050.02 L366.89,1050.52 L367.84,1051.02 L368.79,1051.54 L369.74,1052.05 L370.69,1052.57 L371.64,1053.09 L372.59,1053.61 L373.53,1054.14 L374.48,1054.66 L375.43,1055.18 L376.38,1055.70 L377.33,1056.21 L378.29,1056.72 L379.24,1057.23 L380.19,1057.72 L381.15,1058.21 L382.11,1058.70 L383.07,1059.17 L384.03,1059.63 L385.00,1060.08 L385.96,1060.52 L386.93,1060.94 L387.91,1061.35 L388.88,1061.75 L389.86,1062.13 L390.85,1062.49 L391.84,1062.83 L392.83,1063.15 L393.83,1063.46 L394.83,1063.74 L395.83,1064.00 L396.84,1064.23 L397.86,1064.45 L398.87,1064.64 L399.90,1064.81 L400.92,1064.96 L401.95,1065.08 L402.98,1065.18 L404.01,1065.26 L405.05,1065.32 L406.08,1065.36 L407.12,1065.37 L408.16,1065.36 L409.19,1065.33 L410.23,1065.28 L411.27,1065.20 L412.31,1065.10 L413.35,1064.98 L414.38,1064.84 L415.42,1064.68 L416.45,1064.49 L417.48,1064.28 L418.51,1064.05 L419.54,1063.80 L420.56,1063.53 L421.58,1063.23 L422.60,1062.92 L423.61,1062.58 L424.62,1062.22 L425.62,1061.85 L426.62,1061.46 L427.62,1061.05 L428.62,1060.64 L429.61,1060.21 L430.60,1059.78 L431.59,1059.34 L432.58,1058.90 L433.57,1058.45 L434.55,1058.01 L435.54,1057.56 L436.52,1057.12 L437.50,1056.69 L438.49,1056.26 L439.47,1055.85 L440.45,1055.44 L441.44,1055.05 L442.42,1054.68 L443.41,1054.32 L444.40,1053.98 L445.39,1053.66 L446.38,1053.36 L447.37,1053.09 L448.37,1052.85 L449.37,1052.64 L450.37,1052.45 L451.37,1052.30 L452.38,1052.19 L453.39,1052.11 L454.41,1052.07 L455.43,1052.07 L456.45,1052.11 L457.48,1052.19 L458.51,1052.31 L459.54,1052.46 L460.57,1052.66 L461.59,1052.88 L462.62,1053.14 L463.64,1053.43 L464.65,1053.76 L465.66,1054.11 L466.66,1054.49 L467.66,1054.90 L468.65,1055.34 L469.62,1055.80 L470.59,1056.29 L471.54,1056.79 L472.48,1057.32 L473.40,1057.87 L474.31,1058.44 L475.21,1059.03 L476.08,1059.63 L476.95,1060.25 L477.79,1060.89 L478.62,1061.54 L479.44,1062.21 L480.24,1062.89 L481.02,1063.59 L481.79,1064.30 L482.55,1065.03 L483.29,1065.77 L484.02,1066.52 L484.74,1067.28 L485.45,1068.06 L486.14,1068.85 L486.82,1069.64 L487.49,1070.45 L488.14,1071.27 L488.79,1072.10 L489.42,1072.94 L490.05,1073.79 L490.66,1074.65 L491.27,1075.51 L491.86,1076.39 L492.45,1077.27 L493.03,1078.15 L493.60,1079.05 L494.16,1079.95 L494.71,1080.85 L495.25,1081.76 L495.79,1082.68 L496.32,1083.59 L496.84,1084.52 L497.36,1085.44 L497.87,1086.37 L498.37,1087.30 L498.87,1088.24 L499.37,1089.17 L499.86,1090.11 L500.34,1091.04 L500.82,1091.98 L501.30,1092.92 L501.77,1093.86 L502.24,1094.79 L502.71,1095.73 L503.17,1096.66 L503.63,1097.59 L504.09,1098.52 L504.55,1099.44 L505.01,1100.36" fill="none" stroke="#7a7a7a" stroke-width="3.4" stroke-linejoin="round" stroke-linecap="butt" clip-path="url(#c2)"/>
<circle cx="110.10" cy="991.10" r="4" fill="none" stroke="#707070" stroke-width="1.3"/>
<circle cx="128.50" cy="992.50" r="4" fill="none" stroke="#707070" stroke-width="1.3"/>
<circle cx="142.20" cy="986.40" r="4" fill="none" stroke="#707070" stroke-width="1.3"/>
<circle cx="153.75" cy="995.50" r="4" fill="none" stroke="#707070" stroke-width="1.3"/>
<circle cx="163.25" cy="1003.50" r="4" fill="none" stroke="#707070" stroke-width="1.3"/>
<circle cx="172.50" cy="1021.50" r="4" fill="none" stroke="#707070" stroke-width="1.3"/>
<circle cx="181.25" cy="1037.00" r="4" fill="none" stroke="#707070" stroke-width="1.3"/>
<circle cx="188.75" cy="1035.50" r="4" fill="none" stroke="#707070" stroke-width="1.3"/>
<circle cx="196.75" cy="1047.00" r="4" fill="none" stroke="#707070" stroke-width="1.3"/>
<circle cx="203.75" cy="1054.50" r="4" fill="none" stroke="#707070" stroke-width="1.3"/>
<circle cx="210.75" cy="1059.25" r="4" fill="none" stroke="#707070" stroke-width="1.3"/>
<circle cx="217.50" cy="1060.50" r="4" fill="none" stroke="#707070" stroke-width="1.3"/>
<circle cx="224.25" cy="1055.50" r="4" fill="none" stroke="#707070" stroke-width="1.3"/>
<circle cx="230.50" cy="1060.75" r="4" fill="none" stroke="#707070" stroke-width="1.3"/>
<circle cx="236.50" cy="1065.25" r="4" fill="none" stroke="#707070" stroke-width="1.3"/>
<circle cx="242.50" cy="1063.75" r="4" fill="none" stroke="#707070" stroke-width="1.3"/>
<circle cx="248.25" cy="1069.25" r="4" fill="none" stroke="#707070" stroke-width="1.3"/>
<circle cx="254.50" cy="1063.00" r="4" fill="none" stroke="#707070" stroke-width="1.3"/>
<circle cx="261.00" cy="1051.00" r="4" fill="none" stroke="#707070" stroke-width="1.3"/>
<circle cx="265.70" cy="1035.60" r="4" fill="none" stroke="#707070" stroke-width="1.3"/>
<circle cx="271.40" cy="1023.70" r="4" fill="none" stroke="#707070" stroke-width="1.3"/>
<circle cx="277.10" cy="1002.90" r="4" fill="none" stroke="#707070" stroke-width="1.3"/>
<circle cx="283.10" cy="1006.10" r="4" fill="none" stroke="#707070" stroke-width="1.3"/>
<circle cx="293.80" cy="1000.60" r="4" fill="none" stroke="#707070" stroke-width="1.3"/>
<circle cx="299.70" cy="1004.30" r="4" fill="none" stroke="#707070" stroke-width="1.3"/>
<circle cx="305.70" cy="1004.20" r="4" fill="none" stroke="#707070" stroke-width="1.3"/>
<circle cx="311.30" cy="1033.40" r="4" fill="none" stroke="#707070" stroke-width="1.3"/>
<circle cx="316.60" cy="1048.10" r="4" fill="none" stroke="#707070" stroke-width="1.3"/>
<circle cx="322.50" cy="1064.25" r="4" fill="none" stroke="#707070" stroke-width="1.3"/>
<circle cx="328.25" cy="1065.75" r="4" fill="none" stroke="#707070" stroke-width="1.3"/>
<circle cx="334.50" cy="1065.50" r="4" fill="none" stroke="#707070" stroke-width="1.3"/>
<circle cx="340.50" cy="1066.75" r="4" fill="none" stroke="#707070" stroke-width="1.3"/>
<circle cx="346.50" cy="1062.50" r="4" fill="none" stroke="#707070" stroke-width="1.3"/>
<circle cx="352.50" cy="1058.00" r="4" fill="none" stroke="#707070" stroke-width="1.3"/>
<circle cx="359.00" cy="1057.00" r="4" fill="none" stroke="#707070" stroke-width="1.3"/>
<circle cx="365.50" cy="1049.50" r="4" fill="none" stroke="#707070" stroke-width="1.3"/>
<circle cx="372.00" cy="1054.50" r="4" fill="none" stroke="#707070" stroke-width="1.3"/>
<circle cx="379.00" cy="1048.75" r="4" fill="none" stroke="#707070" stroke-width="1.3"/>
<circle cx="386.25" cy="1046.25" r="4" fill="none" stroke="#707070" stroke-width="1.3"/>
<circle cx="393.60" cy="1039.30" r="4" fill="none" stroke="#707070" stroke-width="1.3"/>
<circle cx="401.50" cy="1034.50" r="4" fill="none" stroke="#707070" stroke-width="1.3"/>
<circle cx="409.80" cy="1020.60" r="4" fill="none" stroke="#707070" stroke-width="1.3"/>
<circle cx="418.90" cy="998.75" r="4" fill="none" stroke="#707070" stroke-width="1.3"/>
<circle cx="428.60" cy="991.90" r="4" fill="none" stroke="#707070" stroke-width="1.3"/>
<circle cx="440.00" cy="1000.00" r="4" fill="none" stroke="#707070" stroke-width="1.3"/>
<circle cx="454.00" cy="989.50" r="4" fill="none" stroke="#707070" stroke-width="1.3"/>
<circle cx="472.50" cy="1002.00" r="4" fill="none" stroke="#707070" stroke-width="1.3"/>
<path d="M77.50,760.00 H505.00 V1101.00 H77.50" fill="none" stroke="#2b2b2b" stroke-width="1.5"/>
<line x1="77.50" y1="759.25" x2="77.50" y2="1101.75" stroke="#484848" stroke-width="1.1"/>
<line x1="77.50" y1="1101.00" x2="77.50" y2="1093.00" stroke="#111" stroke-width="1.9"/>
<text x="71.88" y="1126.80" font-size="22.5" fill="#111111" stroke="#fff" stroke-width="0.2">0</text>
<line x1="148.75" y1="1101.00" x2="148.75" y2="1093.00" stroke="#111" stroke-width="1.9"/>
<text x="137.38" y="1126.80" font-size="22.5" fill="#111111" stroke="#fff" stroke-width="0.2">30</text>
<line x1="220.00" y1="1101.00" x2="220.00" y2="1093.00" stroke="#111" stroke-width="1.9"/>
<text x="208.69" y="1126.80" font-size="22.5" fill="#111111" stroke="#fff" stroke-width="0.2">60</text>
<line x1="291.25" y1="1101.00" x2="291.25" y2="1093.00" stroke="#111" stroke-width="1.9"/>
<text x="280.06" y="1126.80" font-size="22.5" fill="#111111" stroke="#fff" stroke-width="0.2">90</text>
<line x1="362.50" y1="1101.00" x2="362.50" y2="1093.00" stroke="#111" stroke-width="1.9"/>
<text x="345.06" y="1126.80" font-size="22.5" fill="#111111" stroke="#fff" stroke-width="0.2">120</text>
<line x1="433.75" y1="1101.00" x2="433.75" y2="1093.00" stroke="#111" stroke-width="1.9"/>
<text x="416.31" y="1126.80" font-size="22.5" fill="#111111" stroke="#fff" stroke-width="0.2">150</text>
<line x1="505.00" y1="1101.00" x2="505.00" y2="1093.00" stroke="#111" stroke-width="1.9"/>
<text x="487.56" y="1126.80" font-size="22.5" fill="#111111" stroke="#fff" stroke-width="0.2">180</text>
<line x1="77.50" y1="1101.00" x2="85.50" y2="1101.00" stroke="#111" stroke-width="1.9"/>
<text x="43.95" y="1109.40" font-size="22.5" fill="#111111" stroke="#fff" stroke-width="0.2">0.0</text>
<line x1="77.50" y1="1032.80" x2="85.50" y2="1032.80" stroke="#111" stroke-width="1.9"/>
<text x="43.95" y="1041.20" font-size="22.5" fill="#111111" stroke="#fff" stroke-width="0.2">0.5</text>
<line x1="77.50" y1="964.60" x2="85.50" y2="964.60" stroke="#111" stroke-width="1.9"/>
<text x="43.95" y="973.00" font-size="22.5" fill="#111111" stroke="#fff" stroke-width="0.2">1.0</text>
<line x1="77.50" y1="896.40" x2="85.50" y2="896.40" stroke="#111" stroke-width="1.9"/>
<text x="43.95" y="904.80" font-size="22.5" fill="#111111" stroke="#fff" stroke-width="0.2">1.5</text>
<line x1="77.50" y1="828.20" x2="85.50" y2="828.20" stroke="#111" stroke-width="1.9"/>
<text x="43.95" y="836.60" font-size="22.5" fill="#111111" stroke="#fff" stroke-width="0.2">2.0</text>
<line x1="77.50" y1="760.00" x2="85.50" y2="760.00" stroke="#111" stroke-width="1.9"/>
<text x="43.95" y="768.40" font-size="22.5" fill="#111111" stroke="#fff" stroke-width="0.2">2.5</text>
<text x="267.45" y="796.70" font-size="26.50" textLength="91.49" lengthAdjust="spacingAndGlyphs" fill="#111111" stroke="#fff" stroke-width="0.50">V-SARP</text>
<text x="475.37" y="779.23" font-size="21.00" textLength="24.79" lengthAdjust="spacingAndGlyphs" fill="#111" stroke="#111" stroke-width="0.25">(c)</text>
<rect x="265.3" y="821.20" width="142.6" height="53" rx="3.5" fill="#1a1a1a"/>
<rect x="263" y="818.80" width="142.6" height="53" rx="3.5" fill="#fff" stroke="#222" stroke-width="1.3"/>
<line x1="268" y1="831.70" x2="305.5" y2="831.70" stroke="#7a7a7a" stroke-width="3.2"/>
<circle cx="286.7" cy="855.70" r="4" fill="none" stroke="#707070" stroke-width="1.3"/>
<text x="318.66" y="837.80" font-size="17.50" textLength="47.87" lengthAdjust="spacingAndGlyphs" fill="#111111" stroke="#fff" stroke-width="0.20">Theory</text>
<text x="318.42" y="862.00" font-size="17.50" textLength="79.02" lengthAdjust="spacingAndGlyphs" fill="#111111" stroke="#fff" stroke-width="0.20">Experiment</text>
<text x="119.75" y="1157.90" font-size="31.00" textLength="127.19" lengthAdjust="spacingAndGlyphs" fill="#111111" stroke="#fff" stroke-width="0.50">Scattering</text>
<text x="254.43" y="1157.90" font-size="31.00" textLength="64.03" lengthAdjust="spacingAndGlyphs" fill="#111111" stroke="#fff" stroke-width="0.50">angle</text>
<text x="325.54" y="1157.90" font-size="31.00" font-style="italic" textLength="16.87" lengthAdjust="spacingAndGlyphs" fill="#111111" stroke="#fff" stroke-width="0.50">θ</text>
<text x="350.40" y="1157.90" font-size="31.00" textLength="108.74" lengthAdjust="spacingAndGlyphs" fill="#111111" stroke="#fff" stroke-width="0.50">(degrees)</text>
<text transform="translate(25.60,0) rotate(-90)" x="-769.30" y="0" font-size="31.50" font-style="italic" textLength="40.40" lengthAdjust="spacingAndGlyphs" fill="#111111" stroke="#fff" stroke-width="0.50">dK</text>
<text transform="translate(25.60,0) rotate(-90)" x="-714.77" y="0" font-size="31.50" font-style="italic" textLength="13.08" lengthAdjust="spacingAndGlyphs" fill="#111111" stroke="#fff" stroke-width="0.50">θ</text>
<text transform="translate(25.60,0) rotate(-90)" x="-675.76" y="0" font-size="31.50" font-style="italic" textLength="29.85" lengthAdjust="spacingAndGlyphs" fill="#111111" stroke="#fff" stroke-width="0.50">dθ</text>
<text transform="translate(25.60,0) rotate(-90)" x="-623.91" y="0" font-size="31.50" textLength="27.59" lengthAdjust="spacingAndGlyphs" fill="#111111" stroke="#fff" stroke-width="0.50">10</text>
<text transform="translate(14.20,0) rotate(-90)" x="-579.46" y="0" font-size="21.00" textLength="19.72" lengthAdjust="spacingAndGlyphs" fill="#111111" stroke="#fff" stroke-width="0.30">12</text>
<text transform="translate(25.60,0) rotate(-90)" x="-550.35" y="0" font-size="31.50" textLength="35.39" lengthAdjust="spacingAndGlyphs" fill="#111111" stroke="#fff" stroke-width="0.50">cm</text>
<text transform="translate(14.20,0) rotate(-90)" x="-514.76" y="0" font-size="21.00" textLength="10.08" lengthAdjust="spacingAndGlyphs" fill="#111111" stroke="#fff" stroke-width="0.30">3</text>
<text transform="translate(25.60,0) rotate(-90)" x="-495.76" y="0" font-size="31.50" textLength="11.42" lengthAdjust="spacingAndGlyphs" fill="#111111" stroke="#fff" stroke-width="0.50">s</text>
<text transform="translate(14.20,0) rotate(-90)" x="-466.37" y="0" font-size="21.00" textLength="7.69" lengthAdjust="spacingAndGlyphs" fill="#111111" stroke="#fff" stroke-width="0.30">1</text>
<text transform="translate(25.60,0) rotate(-90)" x="-443.55" y="0" font-size="31.50" textLength="78.64" lengthAdjust="spacingAndGlyphs" fill="#111111" stroke="#fff" stroke-width="0.50">degree</text>
<text transform="translate(25.83,0) rotate(-90)" x="-725.88" y="0" font-size="33.90" fill="#111111" stroke="#fff" stroke-width="0.7">(</text>
<text transform="translate(25.83,0) rotate(-90)" x="-634.33" y="0" font-size="33.90" fill="#111111" stroke="#fff" stroke-width="0.7">(</text>
<text transform="translate(25.83,0) rotate(-90)" x="-701.59" y="0" font-size="33.90" fill="#111111" stroke="#fff" stroke-width="0.7">)</text>
<text transform="translate(25.83,0) rotate(-90)" x="-366.44" y="0" font-size="33.90" fill="#111111" stroke="#fff" stroke-width="0.7">)</text>
<line x1="2.7" y1="677.10" x2="32.3" y2="687.70" stroke="#111111" stroke-width="1.4"/>
<line x1="2.7" y1="444.60" x2="32.3" y2="455.20" stroke="#111111" stroke-width="1.4"/>
<line x1="8.9" y1="594.60" x2="8.9" y2="581.50" stroke="#111111" stroke-width="1.4"/>
<line x1="8.9" y1="481.90" x2="8.9" y2="469.20" stroke="#111111" stroke-width="1.4"/>
</svg></body></html>
